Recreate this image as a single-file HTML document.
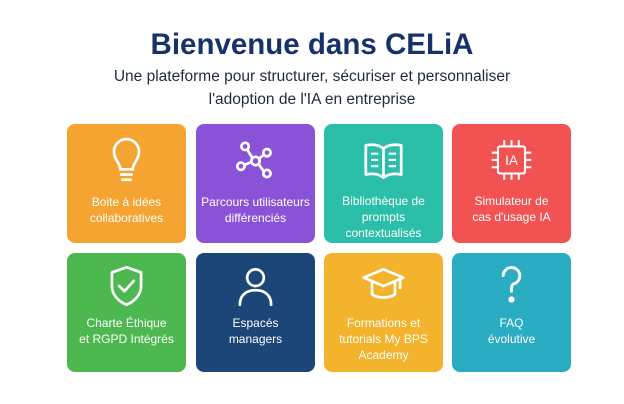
<!DOCTYPE html>
<html><head><meta charset="utf-8"><style>
body{margin:0;width:624px;height:404px;background:#fff;font-family:"Liberation Sans",sans-serif;position:relative;overflow:hidden}
h1{position:absolute;left:0;width:624px;top:28px;margin:0;text-align:center;font-size:29.5px;font-weight:bold;color:#17326b}
.sub{position:absolute;left:0;width:624px;text-align:center;font-size:15.5px;color:#1f2a3d}
.card{position:absolute;width:119px;height:119px;border-radius:8px;color:#fff}
.card svg{position:absolute;left:38px;width:43px;height:50px}
.card .t{position:absolute;left:0;width:119px;text-align:center;font-size:12px;line-height:16px}
</style></head><body>
<h1>Bienvenue dans CELiA</h1>
<div class="sub" style="top:68px">Une plateforme pour structurer, sécuriser et personnaliser</div>
<div class="sub" style="top:91px">l'adoption de l'IA en entreprise</div>

<div class="card" style="left:67px;top:124px;background:#f5a432">
<svg style="top:12px" viewBox="0 0 40 48" fill="none" stroke="#fff" stroke-width="2.6" stroke-linecap="round"><path d="M14 32 C14 26 8 23 8 15 A12 12 0 0 1 32 15 C32 23 26 26 26 32 Z"/><path d="M15 37h10M16 42h8"/></svg>
<div class="t" style="top:70px">Boite à idées<br>collaboratives</div></div>

<div class="card" style="left:196px;top:124px;background:#8a52d6">
<svg style="top:12px" viewBox="0 0 40 48" fill="none" stroke="#fff" stroke-width="2.6"><circle cx="20" cy="24" r="4"/><circle cx="10" cy="10" r="3.5"/><circle cx="31" cy="16" r="3.5"/><circle cx="6" cy="29" r="3.5"/><circle cx="31" cy="36" r="3.5"/><path d="M12 13l5 8M28 18l-5 4M9 28l7-3M28 34l-5-7"/></svg>
<div class="t" style="top:70px">Parcours utilisateurs<br>différenciés</div></div>

<div class="card" style="left:324px;top:124px;background:#2bbfa9">
<svg style="top:12px" viewBox="0 0 40 48" fill="none" stroke="#fff" stroke-width="2.6" stroke-linejoin="round"><path d="M20 12 C15 8 8 8 3 9 V37 C8 36 15 36 20 40 C25 36 32 36 37 37 V9 C32 8 25 8 20 12 Z M20 12 V40"/><path d="M8 17h7M8 23h7M8 29h7M25 17h7M25 23h7M25 29h7" stroke-width="2"/></svg>
<div class="t" style="top:69px">Bibliothèque de<br>prompts<br>contextualisés</div></div>

<div class="card" style="left:452px;top:124px;background:#f25252">
<svg style="top:12px" viewBox="0 0 40 48" fill="none" stroke="#fff" stroke-width="2"><rect x="7" y="10" width="26" height="26" rx="2"/><path d="M13 4v6M20 4v6M27 4v6M13 36v6M20 36v6M27 36v6M1 16h6M1 23h6M1 30h6M33 16h6M33 23h6M33 30h6"/><text x="20" y="28" text-anchor="middle" font-family="Liberation Sans" font-size="13" fill="#fff" stroke="none">IA</text></svg>
<div class="t" style="top:69px">Simulateur de<br>cas d'usage IA</div></div>

<div class="card" style="left:67px;top:253px;background:#4cb84f">
<svg style="top:8px" viewBox="0 0 40 48" fill="none" stroke="#fff" stroke-width="2.6" stroke-linecap="round" stroke-linejoin="round"><path d="M20 6 L34 11 V24 C34 33 27 39 20 42 C13 39 6 33 6 24 V11 Z"/><path d="M13 24l5 5 9-10"/></svg>
<div class="t" style="top:62px">Charte Éthique<br>et RGPD Intégrés</div></div>

<div class="card" style="left:196px;top:253px;background:#1c4678">
<svg style="top:8px" viewBox="0 0 40 48" fill="none" stroke="#fff" stroke-width="2.6" stroke-linecap="round"><circle cx="20" cy="16" r="8"/><path d="M5 42 C5 32 12 28 20 28 C28 28 35 32 35 42"/></svg>
<div class="t" style="top:62px">Espacés<br>managers</div></div>

<div class="card" style="left:324px;top:253px;background:#f3b32c">
<svg style="top:8px" viewBox="0 0 40 48" fill="none" stroke="#fff" stroke-width="2.6" stroke-linejoin="round"><path d="M1 16 L20 8 L39 16 L20 24 Z"/><path d="M9 20 V32 C14 36 26 36 31 32 V20"/><path d="M36 17 V27"/></svg>
<div class="t" style="top:62px">Formations et<br>tutorials My BPS<br>Academy</div></div>

<div class="card" style="left:452px;top:253px;background:#2aadc3">
<svg style="top:8px" viewBox="0 0 40 48" fill="none" stroke="#fff" stroke-width="2.8" stroke-linecap="round"><path d="M12 14 A8 8 0 1 1 22 22 C20 23 20 25 20 29"/><circle cx="20" cy="37" r="1.6" fill="#fff"/></svg>
<div class="t" style="top:62px">FAQ<br>évolutive</div></div>
</body></html>
